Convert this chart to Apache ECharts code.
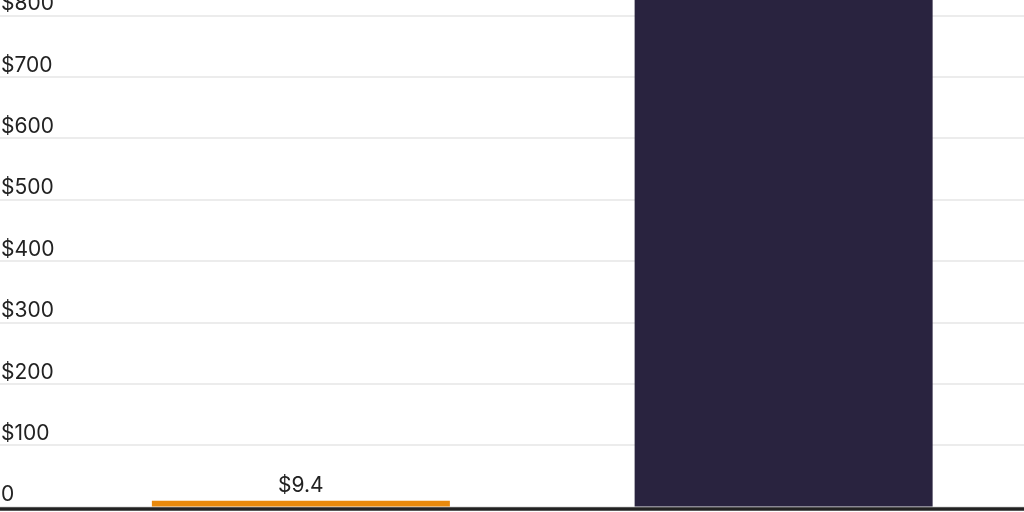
<!DOCTYPE html>
<html>
<head>
<meta charset="utf-8">
<style>html,body{margin:0;padding:0;background:#fff;}#c{width:1024px;height:512px;}</style>
<script src="https://cdn.jsdelivr.net/npm/echarts@6/dist/echarts.min.js"></script>
</head>
<body>
<div id="c"></div>
<script>
var categories = ["A", "B"];
var values = [9.4, 1000];
var barColors = ["#E8890C", "#29233F"];
var valueLabels = ["$9.4", ""];
var tickLabel = function (v) { return v === 0 ? "0" : "$" + v; };

var chart = echarts.init(document.getElementById('c'));
var font = "Inter, 'Noto Sans', sans-serif";
chart.setOption({
  animation: false,
  grid: [
    { left: 0, right: 0, top: -46, bottom: 5.5, outerBoundsMode: 'none', containLabel: false },
    { left: 59.5, right: -1, top: -46, bottom: 5.5, outerBoundsMode: 'none', containLabel: false }
  ],
  xAxis: [
    { gridIndex: 0, type: 'category', data: ['x'], axisTick: { show: false }, axisLabel: { show: false },
      axisLine: { show: true, onZero: false, lineStyle: { color: '#222', width: 3.5 } }, offset: 2, z: 10 },
    { gridIndex: 1, type: 'category', data: categories, axisTick: { show: false }, axisLabel: { show: false },
      axisLine: { show: false } }
  ],
  yAxis: [
    { gridIndex: 0, type: 'value', min: 0, max: 900, interval: 100,
      axisLine: { show: false }, axisTick: { show: false },
      splitLine: { show: true, lineStyle: { color: '#e6e6e6', width: 1.5 } },
      axisLabel: { inside: true, margin: 1, verticalAlign: 'bottom', color: '#222', fontFamily: font, fontSize: 21,
        padding: [0, 0, 1, 0], formatter: tickLabel } },
    { gridIndex: 1, type: 'value', min: 0, max: 900, interval: 100, show: false, splitLine: { show: false } }
  ],
  series: [{
    type: 'bar', xAxisIndex: 1, yAxisIndex: 1, barWidth: 298, clip: true,
    data: values.map(function (v, i) {
      return { value: v, itemStyle: { color: barColors[i] },
        label: { show: valueLabels[i] !== "", formatter: valueLabels[i] } };
    }),
    label: { position: 'top', distance: 5, color: '#222', fontFamily: font, fontSize: 21 }
  }]
});
</script>
</body>
</html>
